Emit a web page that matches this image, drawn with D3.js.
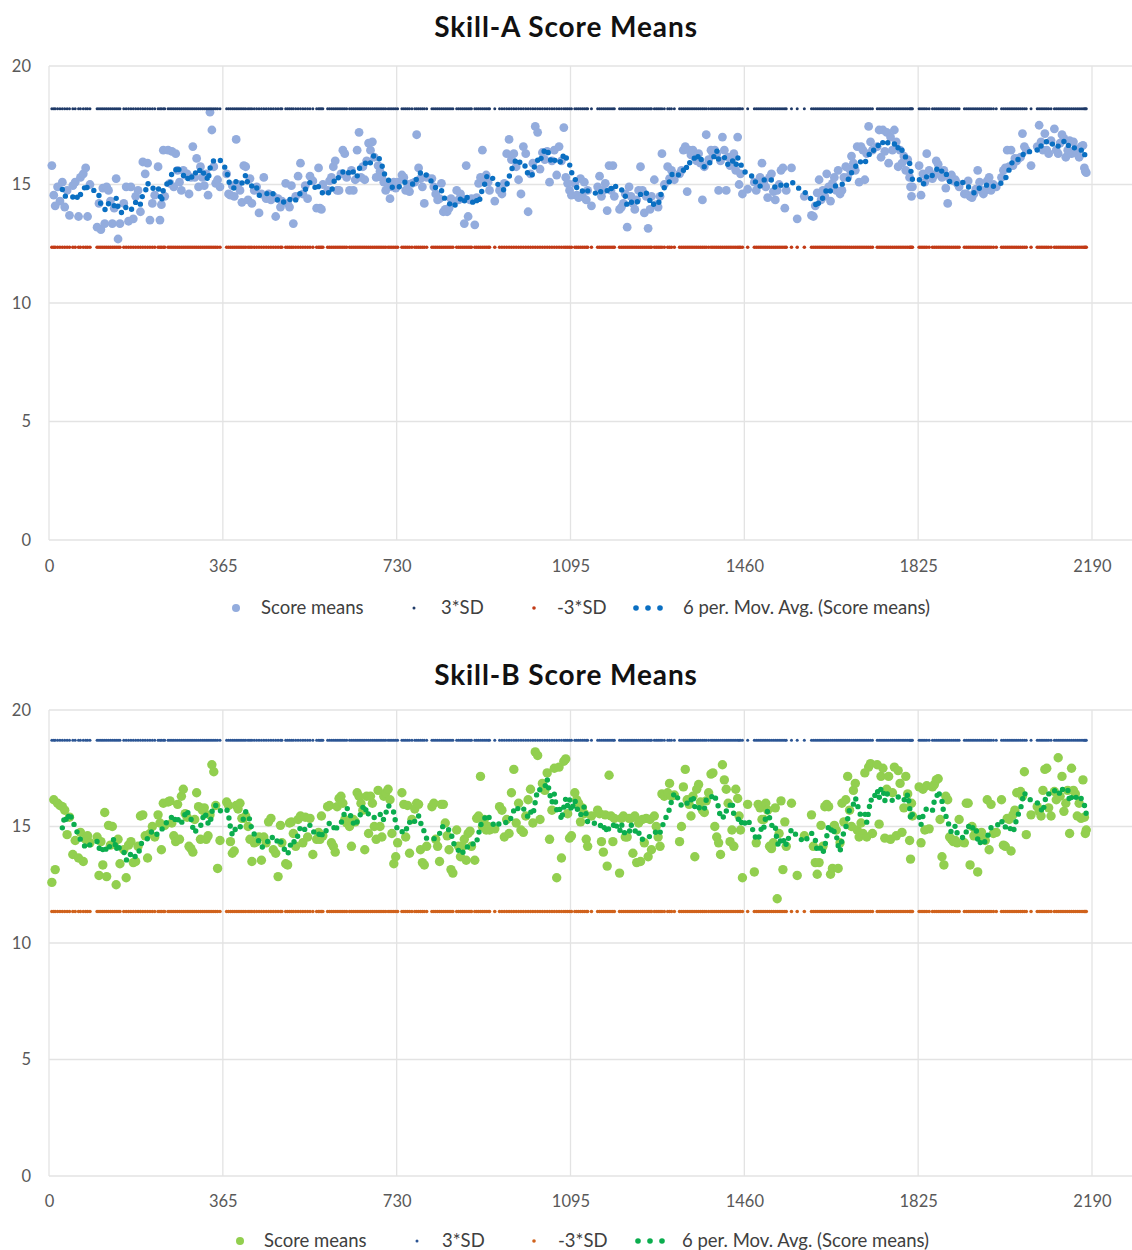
<!DOCTYPE html>
<html><head><meta charset="utf-8">
<script src="https://cdn.jsdelivr.net/npm/d3@7"></script>
<style>body{margin:0;background:#fff;} svg{display:block;font-family:Lato,"Open Sans",sans-serif;}</style>
</head><body><svg id="c" width="1132" height="1250"></svg>
<script>
// Observation days (x values, shared by both charts)
const days = [
6,10,13,18,23,28,33,38,43,50,55,62,66,72,77,81,86,
101,105,109,113,117,121,125,129,133,137,141,145,149,
157,162,167,172,177,182,187,192,197,202,207,212,217,222,
229,233,236,240,243,
250,254,258,262,266,270,274,278,282,286,290,294,298,302,306,310,314,318,322,326,330,334,338,342,346,350,354,359,
373,377,381,385,389,393,397,401,405,
409,413,418,422,426,431,436,441,446,451,456,461,466,471,476,481,486,489,
497,501,505,509,513,518,523,528,533,538,543,548,554,
562,566,569,572,575,
585,589,593,597,601,605,609,613,617,621,625,
631,635,639,643,647,651,655,659,663,667,671,675,679,683,687,691,695,699,703,707,712,716,720,724,728,732,
741,745,749,753,757,762,
768,772,776,780,784,788,793,
804,808,812,816,820,824,828,832,836,840,844,848,
856,860,864,868,872,876,880,884,887,
894,898,902,906,910,914,918,922,925,
936,
946,951,956,961,966,971,976,981,986,991,996,1001,1006,1011,1016,1021,1026,1031,1036,1041,1046,1051,1056,1061,1066,1071,1076,1081,1085,1089,1093,1097,
1104,1108,1112,1116,1120,1124,1128,1131,
1139,
1152,1156,1160,1164,1168,1172,1176,1180,1184,1187,
1198,1202,1206,1210,1214,1218,1222,1226,1230,1234,1238,1242,1246,1250,1254,1258,1262,1265,
1271,1275,1279,1283,1287,1292,
1299,1303,1307,1313,
1324,1328,1332,1336,1340,1344,1348,1352,1356,1360,1364,1368,1372,1376,1380,1385,1390,1394,1398,1402,1406,1410,1414,1418,1422,1426,1430,1434,1438,1442,1446,1449,1452,1456,
1467,
1481,1485,1489,1493,1497,1501,1505,1509,1513,1517,1521,1525,1529,1533,1537,1541,1545,1548,
1559,1571,1586,
1601,1605,1609,1613,1617,1621,1625,1629,1633,1637,1641,1645,1649,1653,1657,1661,1665,1669,1673,1677,1681,1685,1689,1693,1697,1701,1705,1709,1713,1717,1721,1725,1729,
1739,1743,1747,1751,1755,1759,1763,1767,1771,1775,1779,1783,1787,1791,1795,1799,1803,1807,1809,1811,1813,
1827,1831,1835,1839,1843,1848,
1855,1859,1863,1867,1871,1875,1879,1883,1887,1891,1895,1899,1903,1907,1911,
1922,1926,1930,1934,1938,1942,1946,1950,1954,1958,1962,1966,1970,1974,1978,1983,1989,
2000,2004,2008,2012,2016,2020,2024,2028,2032,2036,2040,2044,2048,2052,
2062,
2075,2079,2083,2087,2091,2095,2099,2104,
2111,2115,2119,2123,2127,2131,2135,2139,2143,2147,2151,2155,2159,2163,2167,2171,2174,2176,2178
];

// Skill-A score means
const scoresA = [
15.8,14.55,14.1,14.9,14.3,15.1,14.05,14.75,13.7,14.95,15.1,13.65,15.3,15.45,15.7,13.65,15.0,
13.2,14.2,13.1,14.85,13.35,14.9,14.75,14.3,13.35,14.0,15.25,12.7,13.35,
14.2,14.9,13.45,14.9,13.55,14.5,14.75,13.85,15.95,15.45,15.9,13.5,14.2,14.55,
15.75,13.5,14.15,16.45,14.5,
16.45,15.05,16.4,14.9,16.3,15.6,15.1,14.75,15.6,15.4,15.45,14.6,15.3,16.6,15.3,16.1,14.9,15.75,15.3,14.95,15.45,14.55,18.05,17.3,15.75,15.05,15.2,14.9,
15.45,14.6,14.55,14.95,14.5,16.9,15.0,14.75,14.25,
15.8,15.75,14.35,15.25,14.2,14.75,14.9,13.8,14.6,15.3,14.4,14.6,14.35,14.5,13.65,14.4,14.05,14.3,
15.05,14.2,14.05,14.95,13.35,14.5,15.35,15.9,14.6,14.95,14.4,15.35,15.15,
14.0,15.7,14.0,13.95,15.0,
14.75,15.15,15.3,15.75,16.0,14.75,14.75,15.45,16.45,16.3,15.3,
14.75,15.6,14.75,15.2,16.45,17.2,15.3,15.75,15.2,16.0,16.75,16.45,16.8,16.15,15.3,15.8,15.55,15.3,15.1,14.75,14.9,14.4,14.9,15.1,14.85,15.1,
15.4,15.3,14.75,15.0,14.7,15.05,
15.1,17.1,15.7,15.25,14.9,14.2,15.3,
15.25,14.9,14.6,14.35,14.4,15.05,13.85,13.95,13.85,14.0,14.4,14.25,
14.75,14.35,14.6,14.4,13.35,15.8,13.65,14.35,14.4,
13.3,14.45,15.05,15.3,16.45,15.15,15.4,15.1,14.75,
14.3,
14.75,14.6,15.05,16.3,16.9,16.05,16.3,15.75,15.2,14.6,16.6,16.3,13.85,15.45,15.9,17.45,17.2,15.65,16.35,16.05,16.4,15.1,16.0,16.45,15.4,16.6,16.0,17.4,15.3,15.05,14.75,14.55,
15.05,14.55,14.45,15.25,14.5,15.1,14.35,14.75,
14.1,
14.9,15.35,14.5,14.75,15.05,13.9,15.8,14.75,15.8,14.5,
13.95,14.05,14.2,14.6,13.2,14.9,14.5,14.2,13.95,14.35,14.75,15.75,14.75,13.8,14.5,13.15,13.95,14.5,
15.2,14.15,14.05,14.5,16.3,15.0,
15.75,15.25,15.6,15.2,
15.45,15.6,16.45,16.6,14.7,16.45,16.25,16.45,16.15,16.0,16.3,15.9,14.35,15.75,17.1,16.05,16.45,16.3,16.45,16.3,14.75,16.0,17.0,16.45,14.75,16.15,15.8,16.05,16.3,15.6,17.0,15.0,15.45,14.6,
14.8,
15.1,14.75,15.0,15.3,15.9,15.15,14.9,14.45,15.3,15.45,14.7,14.35,14.75,15.0,15.6,15.7,14.0,14.75,
15.7,13.55,14.5,
13.7,13.65,14.1,14.65,15.2,14.35,14.75,14.5,15.45,14.9,14.3,15.05,15.3,14.75,15.6,14.6,14.75,15.3,15.75,15.3,15.65,16.2,15.9,15.6,16.6,15.1,16.6,16.45,15.2,16.3,17.45,16.8,16.45,
16.6,17.3,16.15,17.3,16.4,17.2,15.9,17.0,16.45,17.3,16.8,15.75,16.45,15.9,16.2,15.6,16.05,15.3,14.9,14.5,14.9,
15.8,14.55,15.45,15.1,16.3,15.6,
15.25,15.4,16.0,15.85,15.55,15.3,15.6,14.85,14.2,15.25,15.4,15.15,15.2,15.05,14.9,
14.6,14.6,15.15,14.5,14.45,14.6,14.8,15.6,15.1,14.75,14.6,14.75,15.15,15.3,14.75,15.0,14.9,
15.3,15.6,15.7,16.45,15.75,16.45,15.8,16.1,16.0,16.1,16.15,17.15,16.6,16.45,
15.8,
16.6,17.5,16.8,16.45,17.15,16.45,16.3,16.85,
17.35,16.45,16.3,16.75,17.1,16.95,16.15,16.45,16.85,16.3,16.8,16.5,16.3,16.15,16.6,16.65,15.7,15.55,15.5
];

// Skill-B score means
const scoresB = [
12.6,16.15,13.15,16.0,15.9,15.85,15.7,14.65,15.4,13.8,14.4,13.65,14.75,13.5,14.45,14.6,14.3,
14.55,12.9,14.35,13.35,15.6,12.85,15.05,14.2,15.0,14.25,12.5,14.45,13.4,
14.0,12.8,14.2,14.35,13.45,13.5,14.15,15.45,15.5,14.6,13.65,14.7,15.0,14.55,
15.5,15.15,14.0,16.0,15.05,
16.05,16.1,15.15,14.6,14.35,15.95,14.45,16.3,16.6,15.55,15.4,14.15,14.05,13.9,15.3,16.45,15.85,14.45,15.7,15.8,14.45,14.6,15.5,17.65,17.35,15.9,13.2,14.4,
16.05,15.9,14.35,13.85,13.95,15.9,15.75,16.0,15.35,
15.35,15.45,15.0,14.45,13.5,14.3,14.35,14.55,13.55,14.55,14.3,15.2,15.35,14.0,13.85,12.85,15.05,14.3,
13.4,13.35,15.15,15.2,14.7,14.15,15.3,15.45,14.3,15.4,14.55,15.35,13.8,
14.45,14.75,14.45,15.45,14.6,
15.85,15.9,14.3,14.15,13.9,15.85,16.2,16.3,16.0,15.3,15.15,
15.0,14.15,15.3,15.2,16.45,16.3,16.0,15.7,14.0,16.3,14.7,16.3,16.0,15.0,14.45,16.55,15.0,14.55,16.3,16.45,16.6,16.15,14.7,13.4,13.7,14.3,
16.45,15.95,14.55,15.9,13.85,15.3,
15.75,16.0,15.95,14.0,13.45,13.35,14.15,
15.85,16.0,14.45,14.15,13.5,15.95,15.95,15.15,14.6,14.0,13.15,13.0,
14.85,14.15,13.7,14.15,14.45,13.55,14.7,14.8,14.15,
13.55,15.35,15.45,17.15,15.0,15.3,14.85,15.0,14.85,
14.9,
15.85,15.7,14.55,15.3,14.7,16.45,17.45,15.15,16.0,14.85,14.75,15.45,16.15,16.6,15.15,18.2,18.05,15.3,16.85,16.55,17.3,14.45,15.7,17.5,12.8,17.55,13.65,17.8,17.9,15.55,14.5,14.6,
16.45,16.15,16.0,15.2,15.8,15.55,14.45,14.15,
15.45,
15.7,15.55,14.35,13.9,15.5,13.3,17.2,15.45,14.35,15.35,
13.0,15.35,15.45,14.55,14.55,15.35,15.35,13.85,15.45,13.45,15.15,13.5,15.3,14.3,15.35,13.7,15.3,14.0,
15.45,15.0,14.55,14.15,16.4,16.3,
16.45,16.85,16.3,16.35,
14.35,15.0,16.7,17.45,16.15,15.95,15.45,16.3,13.7,16.6,16.8,16.05,15.7,15.6,16.1,16.45,17.25,17.3,15.0,14.55,14.3,13.8,17.65,17.0,16.6,16.0,14.35,14.85,14.15,16.6,16.2,15.45,14.85,12.8,
15.95,
13.05,14.3,15.95,15.8,15.3,15.3,16.0,15.7,14.15,14.05,14.3,15.8,11.9,14.7,16.1,13.15,15.2,14.15,
16.0,12.9,14.6,
15.5,14.15,13.45,12.95,13.45,15.05,14.15,15.85,15.95,15.85,12.95,13.2,15.05,14.85,13.2,14.3,16.0,15.2,16.15,17.15,15.7,15.0,16.55,16.85,14.85,14.55,15.15,14.7,17.3,14.55,17.55,17.7,14.7,
17.65,15.1,17.15,17.5,14.5,16.6,17.15,14.45,16.45,17.55,14.6,17.4,16.85,14.75,15.8,17.15,16.4,14.4,13.6,16.0,15.45,
16.7,14.3,16.6,14.85,16.75,14.9,
16.7,16.8,17.0,17.05,15.3,13.7,13.35,16.3,16.15,14.55,14.45,14.35,14.4,14.3,15.3,
14.3,16.0,16.0,13.35,15.0,14.6,14.75,13.05,14.6,14.75,14.45,14.4,16.15,14.0,15.95,14.7,14.75,
16.15,14.2,14.15,15.35,15.3,13.95,15.5,15.7,16.45,16.45,16.5,16.3,17.35,14.65,
15.5,
15.85,15.65,15.45,16.55,17.45,17.5,15.8,15.45,
16.5,16.15,17.95,16.3,17.15,15.65,16.0,16.55,14.7,17.5,16.55,16.4,15.45,16.0,15.35,17.0,15.4,14.7,14.85
];

// Control limits (+3*SD, -3*SD)
const limitsA = [18.2, 12.35];
const limitsB = [18.7, 11.35];

const xTicks = [0, 365, 730, 1095, 1460, 1825, 2190];
const yTicks = [0, 5, 10, 15, 20];
const titles = ["Skill-A Score Means", "Skill-B Score Means"];
const legendLabels = ["Score means", "3*SD", "-3*SD", "6 per. Mov. Avg. (Score means)"];
const maPeriod = 6;

const svg = d3.select("#c");

function movingAvg(xs, ys, n) {
  const out = [];
  for (let i = n - 1; i < ys.length; i++) {
    out.push([xs[i], d3.mean(ys.slice(i - n + 1, i + 1))]);
  }
  return out;
}

function drawChart(cfg) {
  const g = svg.append("g");
  const x = d3.scaleLinear().domain([0, 2190]).range([49, 1092]);
  const y = d3.scaleLinear().domain([0, 20]).range([cfg.bottom, cfg.top]);

  // title
  g.append("text").attr("x", 566).attr("y", cfg.titleY)
    .attr("text-anchor", "middle").attr("font-size", 28).attr("font-weight", "bold")
    .attr("letter-spacing", 0.9).attr("fill", "#111").text(cfg.title);

  // horizontal gridlines
  g.selectAll(".hg").data(yTicks).join("line")
    .attr("x1", 49).attr("x2", 1132)
    .attr("y1", d => y(d)).attr("y2", d => y(d))
    .attr("stroke", "#e3e3e3").attr("stroke-width", 1.3);
  // vertical gridlines
  g.selectAll(".vg").data(xTicks).join("line")
    .attr("x1", d => x(d)).attr("x2", d => x(d))
    .attr("y1", cfg.top).attr("y2", cfg.bottom)
    .attr("stroke", "#e3e3e3").attr("stroke-width", 1.3);

  // axes labels
  const yAxis = d3.axisLeft(y).tickValues(yTicks).tickSize(0).tickPadding(18);
  const ya = g.append("g").attr("transform", "translate(49,0)").call(yAxis);
  ya.select(".domain").remove();
  ya.selectAll("text").attr("font-size", 16.5).attr("fill", "#595959").attr("font-family", "Lato");

  const xAxis = d3.axisBottom(x).tickValues(xTicks).tickFormat(d3.format("d")).tickSize(0).tickPadding(cfg.xPad);
  const xa = g.append("g").attr("transform", `translate(0,${cfg.bottom})`).call(xAxis);
  xa.select(".domain").remove();
  xa.selectAll("text").attr("font-size", 16.5).attr("fill", "#595959").attr("font-family", "Lato");

  // score means
  g.append("g").selectAll("circle").data(cfg.values).join("circle")
    .attr("cx", (d, i) => x(days[i])).attr("cy", d => y(d)).attr("r", cfg.r)
    .attr("fill", cfg.pointColor);

  // control limit markers
  g.append("g").selectAll("circle").data(days).join("circle")
    .attr("cx", d => x(d)).attr("cy", y(cfg.limits[0])).attr("r", 1.5)
    .attr("fill", cfg.upperColor);
  g.append("g").selectAll("circle").data(days).join("circle")
    .attr("cx", d => x(d)).attr("cy", y(cfg.limits[1])).attr("r", 1.8)
    .attr("fill", cfg.lowerColor);

  // moving average trendline (round-dot style)
  const ma = movingAvg(days, cfg.values, maPeriod);
  const line = d3.line().x(d => x(d[0])).y(d => y(d[1]));
  g.append("path").attr("d", line(ma)).attr("fill", "none")
    .attr("stroke", cfg.maColor).attr("stroke-width", 5.4)
    .attr("stroke-linecap", "round").attr("stroke-dasharray", "0 8");

  // legend
  const ly = cfg.legendY;
  const L = g.append("g");
  L.append("circle").attr("cx", cfg.leg[0]).attr("cy", ly).attr("r", 4).attr("fill", cfg.pointColor);
  L.append("circle").attr("cx", cfg.leg[2]).attr("cy", ly).attr("r", 1.5).attr("fill", cfg.upperColor);
  L.append("circle").attr("cx", cfg.leg[4]).attr("cy", ly).attr("r", 1.8).attr("fill", cfg.lowerColor);
  [0, 1, 2].forEach(k => L.append("circle").attr("cx", cfg.leg[6] + k * 12).attr("cy", ly).attr("r", 2.8).attr("fill", cfg.maColor));
  const tx = [cfg.leg[1], cfg.leg[3], cfg.leg[5], cfg.leg[7]];
  legendLabels.forEach((t, k) => L.append("text").attr("x", tx[k]).attr("y", ly)
    .attr("dy", "0.35em").attr("font-size", 18.5).attr("fill", "#404040").text(t));
}

drawChart({
  title: titles[0], titleY: 37, top: 66, bottom: 540, legendY: 608, xPad: 20, r: 4.4,
  values: scoresA, limits: limitsA,
  pointColor: "#93ACDD", maColor: "#0A6FC2", upperColor: "#1F3A68", lowerColor: "#C23A16",
  leg: [236, 261, 414, 441, 534, 557, 636, 683]
});
drawChart({
  title: titles[1], titleY: 685, top: 710, bottom: 1176, legendY: 1241, xPad: 19, r: 4.7,
  values: scoresB, limits: limitsB,
  pointColor: "#92CF4F", maColor: "#0BAD4E", upperColor: "#2B5594", lowerColor: "#D0621C",
  leg: [240, 264, 417, 442, 534, 558, 638, 682]
});
</script></body></html>
